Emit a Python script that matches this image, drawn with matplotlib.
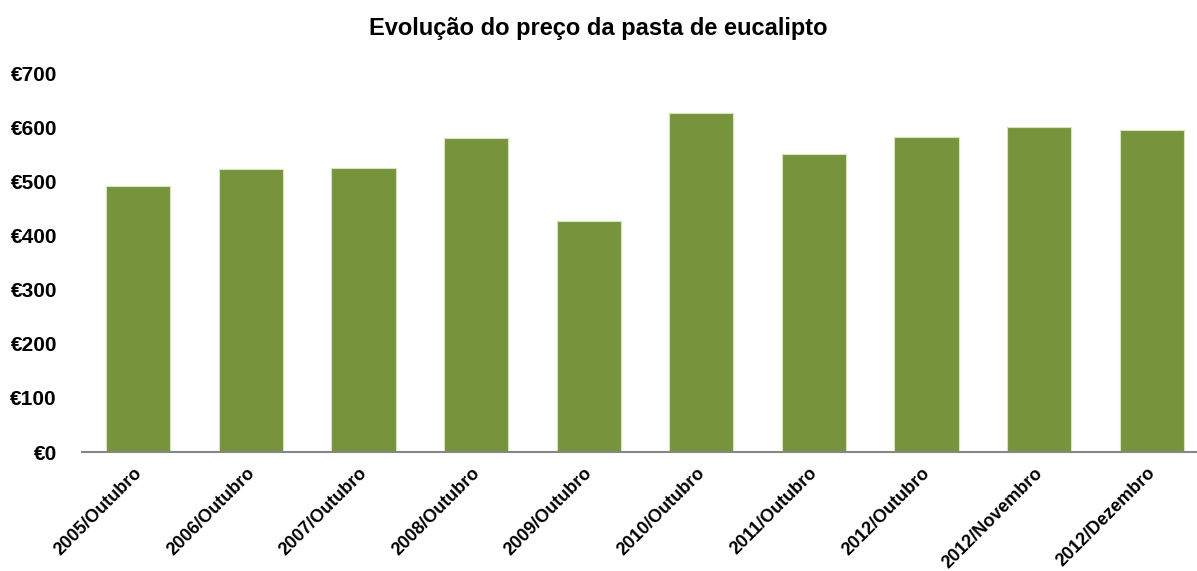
import matplotlib.pyplot as plt
import matplotlib.transforms as mtransforms
import numpy as np

plt.rcParams['font.family'] = ['Liberation Sans', 'DejaVu Sans']

periods = ["2005/Outubro", "2006/Outubro", "2007/Outubro", "2008/Outubro",
           "2009/Outubro", "2010/Outubro", "2011/Outubro", "2012/Outubro",
           "2012/Novembro", "2012/Dezembro"]
prices = [492, 523, 525, 580, 426, 626, 550, 582, 600, 595]
y_ticks = [0, 100, 200, 300, 400, 500, 600, 700]

fig = plt.figure(figsize=(11.97, 5.71), dpi=100)
# plot area runs slightly past the right edge of the figure
ax = fig.add_axes([0.0685, 0.2084, 0.9407, 0.6636])

x = np.arange(len(periods))
ax.bar(x, prices, width=0.57, color="#77933C", edgecolor="#d7e4bd", linewidth=0.8)

ax.set_xlim(-0.5, len(periods) - 0.5)
ax.set_ylim(0, 700)
ax.set_yticks(y_ticks)
ax.set_yticklabels([f"€{v}" for v in y_ticks], fontsize=15, fontweight="bold")
ax.tick_params(axis="y", length=0, pad=18)

ax.set_xticks(x)
ax.set_xticklabels(periods, rotation=45, ha="right", va="top",
                   rotation_mode="anchor", fontsize=13, fontweight="bold")
ax.tick_params(axis="x", length=0, pad=9)
shift = mtransforms.ScaledTranslation(-5 / 100, 0, fig.dpi_scale_trans)
for lbl in ax.get_xticklabels():
    lbl.set_transform(lbl.get_transform() + shift)

for side in ["top", "right", "left"]:
    ax.spines[side].set_visible(False)
ax.spines["bottom"].set_color("#868686")
ax.spines["bottom"].set_linewidth(1.5)

fig.text(0.5, 1 - 29 / 571, "Evolução do preço da pasta de eucalipto",
         ha="center", va="center", fontsize=17, fontweight="bold")

fig.savefig("out.png", dpi=100)
